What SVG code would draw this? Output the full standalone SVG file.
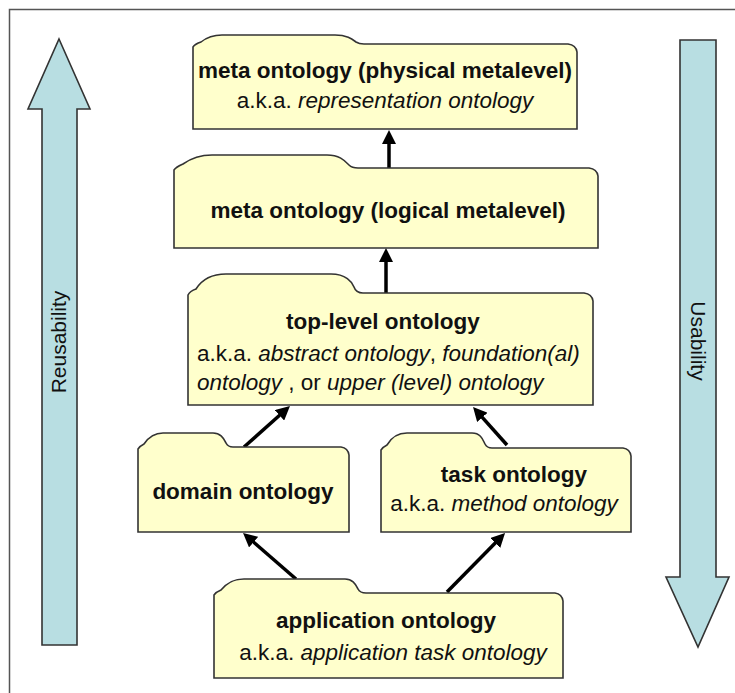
<svg xmlns="http://www.w3.org/2000/svg" width="735" height="693" viewBox="0 0 735 693">
<style>
.folder{fill:#FFFFCC;stroke:#333;stroke-width:1.6}
.side{fill:#B8DEE2;stroke:#333;stroke-width:1.6}
.t{font-family:"Liberation Sans",Arial,sans-serif;font-size:22.5px;fill:#111}
.b{font-weight:bold}
.i{font-style:italic}
.s{font-family:"Liberation Sans",Arial,sans-serif;font-size:21px;fill:#111}
.con{stroke:#000;stroke-width:3.5;fill:none;marker-end:url(#ah)}
</style>
<defs>
<marker id="ah" viewBox="0 0 10 10" refX="2" refY="5" markerWidth="14" markerHeight="14" markerUnits="userSpaceOnUse" orient="auto">
<path d="M0,0 L10,5 L0,10 Z" fill="#000"/>
</marker>
</defs>
<rect x="0" y="0" width="735" height="693" fill="#fff"/>
<rect x="9.5" y="9.5" width="800" height="800" fill="none" stroke="#555" stroke-width="1.5"/>

<g id="reusability">
<polygon class="side" points="59,39 90,109 77,109 77,645 42,645 42,109 28,109"/>
<text class="s" text-anchor="middle" transform="translate(66,342) rotate(-90)">Reusability</text>
</g>
<g id="usability">
<polygon class="side" points="680,40 716,40 716,577 729,577 698,647 666,577 680,577"/>
<text class="s" text-anchor="middle" transform="translate(691,341) rotate(90)">Usability</text>
</g>

<g id="connectors">
<line class="con" x1="389" y1="168" x2="389" y2="141.2"/>
<line class="con" x1="386" y1="293" x2="386" y2="259.2"/>
<line class="con" x1="244" y1="447" x2="281.6" y2="413.5"/>
<line class="con" x1="507" y1="445" x2="480.5" y2="415.3"/>
<line class="con" x1="296" y1="579" x2="251.5" y2="540.3"/>
<line class="con" x1="447" y1="592" x2="497.2" y2="541"/>
</g>

<g id="meta-physical">
<path class="folder" d="M193,129 L193,47 Q195,44 201,42 C206,38 212,35 222,35 L335,35 C347,35 352,39 356,42 Q359,44 364,44 L568,44 Q576,45 577,52 L577,129 Z"/>
<text class="t b" x="385" y="78" text-anchor="middle">meta ontology (physical metalevel)</text>
<text class="t" x="385" y="108" text-anchor="middle">a.k.a. <tspan class="i">representation ontology</tspan></text>
</g>

<g id="meta-logical">
<path class="folder" d="M174,248 L174,170 Q176,167 183,164 C190,159 198,155 212,155 L327,155 C340,155 345,161 349,165 Q352,168 358,168 L589,168 Q597,169 598,176 L598,248 Z"/>
<text class="t b" x="388" y="218" text-anchor="middle">meta ontology (logical metalevel)</text>
</g>

<g id="top-level">
<path class="folder" d="M188,405 L188,295 Q190,291 196,289 C201,281 210,274 226,274 L331,274 C346,274 352,282 354,287 Q356,293 363,293 L584,293 Q592,294 593,301 L593,405 Z"/>
<text class="t b" x="286" y="329">top-level ontology</text>
<text class="t" x="197" y="361">a.k.a. <tspan class="i">abstract ontology</tspan>, <tspan class="i">foundation(al)</tspan></text>
<text class="t" x="197" y="390"><tspan class="i">ontology</tspan> , or <tspan class="i">upper (level) ontology</tspan></text>
</g>

<g id="domain">
<path class="folder" d="M138,532 L138,449 Q140,446 144,444 C148,438 153,433 163,433 L213,433 C222,433 224,440 226,443 Q228,447 233,447 L341,447 Q348,448 349,455 L349,532 Z"/>
<text class="t b" x="243" y="499" text-anchor="middle">domain ontology</text>
</g>

<g id="task">
<path class="folder" d="M381,532 L381,450 Q383,447 387,445 C391,438 397,433 407,433 L472,433 C481,433 483,440 485,444 Q487,448 492,448 L623,448 Q630,449 631,456 L631,532 Z"/>
<text class="t b" x="514" y="482" text-anchor="middle">task ontology</text>
<text class="t" x="504" y="511" text-anchor="middle">a.k.a. <tspan class="i">method ontology</tspan></text>
</g>

<g id="application">
<path class="folder" d="M214,678 L214,595 Q216,592 221,590 C226,584 232,579 244,579 L345,579 C354,579 356,586 358,589 Q360,593 366,593 L555,593 Q562,594 563,601 L563,678 Z"/>
<text class="t b" x="386" y="628" text-anchor="middle">application ontology</text>
<text class="t" x="393" y="660" text-anchor="middle">a.k.a. <tspan class="i">application task ontology</tspan></text>
</g>
</svg>
